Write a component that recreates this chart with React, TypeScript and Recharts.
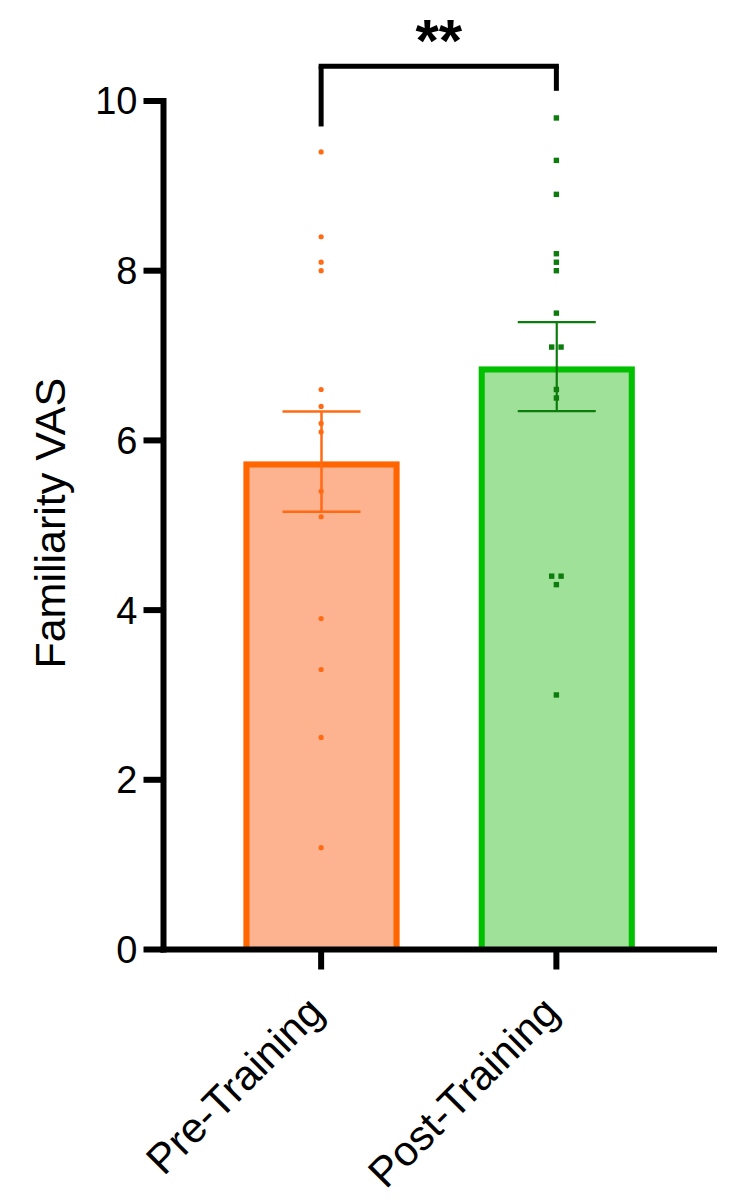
import {
  Bar,
  ComposedChart,
  ErrorBar,
  ReferenceLine,
  Scatter,
  XAxis,
  YAxis,
} from "recharts";

// group labels, bar heights (means) and SEM
const groups = ["Pre-Training", "Post-Training"];
const means = [5.75, 6.87];
const sems = [0.59, 0.525];

// individual scores per group
const preScores = [9.4, 8.4, 8.1, 8.0, 6.6, 6.4, 6.2, 6.1, 5.4, 5.1, 3.9, 3.3, 2.5, 1.2];
const postScores = [9.8, 9.3, 8.9, 8.2, 8.1, 8.0, 7.5, 7.1, 7.1, 6.6, 6.5, 4.4, 4.4, 4.3, 3.0];

const yTicks = [0, 2, 4, 6, 8, 10];

// significance bracket: leg bottoms, bracket height and its label
const bracketLeft = 9.7;
const bracketRight = 10.12;
const bracketTop = 10.41;
const significance = "**";

const FONT = "'Liberation Sans', Arial, Helvetica, sans-serif";

const PRE_STROKE = "#ff6600";
const PRE_FILL = "#fdb38f";
const PRE_DOT = "#ff6a13";
const POST_STROKE = "#00c000";
const POST_FILL = "#9fe198";
const POST_DOT = "#0c7d0c";

const barData = [
  { name: groups[0], pre: means[0], preErr: sems[0] },
  { name: groups[1], post: means[1], postErr: sems[1] },
];

const scoreData = [
  ...preScores.map((value) => ({ name: groups[0], value, group: 0 })),
  ...postScores.map((value) => ({ name: groups[1], value, group: 1 })),
];

const BAR_BORDER = 6;

// Prism-style bar: border drawn inside the rect, no bottom edge
function makeBarShape(fill: string, stroke: string) {
  return (props: any) => {
    const { x, y, width, height } = props;
    if (!height || height <= 0) return null;
    const h = BAR_BORDER / 2;
    const d = `M${x + h},${y + height} L${x + h},${y + h} L${x + width - h},${y + h} L${x + width - h},${y + height}`;
    return (
      <g>
        <rect x={x} y={y} width={width} height={height} fill={fill} />
        <path d={d} fill="none" stroke={stroke} strokeWidth={BAR_BORDER} />
      </g>
    );
  };
}

// tied scores are spread side by side
function ScoreDot(props: any) {
  const { cx, cy, payload, index } = props;
  if (cx == null || cy == null) return null;
  const isTie = (p: { group: number; value: number }) =>
    p.group === payload.group && p.value === payload.value;
  const ties = scoreData.filter(isTie).length;
  const k = scoreData.slice(0, index).filter(isTie).length;
  const dx = ties > 1 ? (k - (ties - 1) / 2) * 9.4 : 0;
  if (payload.group === 0) {
    return <circle cx={cx + dx} cy={cy} r={2.6} fill={PRE_DOT} />;
  }
  return <rect x={cx + dx - 2.7} y={cy - 2.7} width={5.4} height={5.4} fill={POST_DOT} />;
}

function CategoryTick(props: any) {
  const { x, y, payload } = props;
  const ex = x + 5;
  const ey = y + 45;
  return (
    <text
      x={ex}
      y={ey}
      transform={`rotate(-45 ${ex} ${ey})`}
      textAnchor="end"
      fontFamily={FONT}
      fontSize={42}
      fill="#000"
    >
      {payload.value}
    </text>
  );
}

function YTitle(props: any) {
  const { viewBox } = props;
  const cx = viewBox.x + 31.5;
  const cy = viewBox.y + viewBox.height / 2 - 2;
  return (
    <text
      x={cx}
      y={cy}
      transform={`rotate(-90 ${cx} ${cy})`}
      textAnchor="middle"
      fontFamily={FONT}
      fontSize={43}
      fill="#000"
    >
      Familiarity VAS
    </text>
  );
}

function StarsLabel(props: any) {
  const { viewBox } = props;
  const cx = viewBox.x + (viewBox.width ?? 0) / 2;
  return (
    <text
      x={cx}
      y={viewBox.y - 5}
      textAnchor="middle"
      fontFamily={FONT}
      fontWeight="bold"
      fontSize={60}
      fill="#000"
    >
      {significance}
    </text>
  );
}

export default function App() {
  return (
    <div style={{ position: "absolute", left: 0, top: 0, width: 750, height: 1202, background: "#fff" }}>
      <ComposedChart
        width={750}
        height={1202}
        data={barData}
        margin={{ top: 101, right: 36, bottom: 52.5, left: 33.5 }}
      >
        <Bar
          dataKey="pre"
          stackId="a"
          barSize={156}
          shape={makeBarShape(PRE_FILL, PRE_STROKE)}
          isAnimationActive={false}
        >
          <ErrorBar dataKey="preErr" width={39} stroke={PRE_DOT} strokeWidth={2.5} isAnimationActive={false} />
        </Bar>
        <Bar
          dataKey="post"
          stackId="a"
          barSize={156}
          shape={makeBarShape(POST_FILL, POST_STROKE)}
          isAnimationActive={false}
        >
          <ErrorBar dataKey="postErr" width={39} stroke={POST_DOT} strokeWidth={2.2} isAnimationActive={false} />
        </Bar>
        <Scatter data={scoreData} dataKey="value" shape={ScoreDot} isAnimationActive={false} />
        <ReferenceLine
          segment={[
            { x: groups[0], y: bracketLeft },
            { x: groups[0], y: bracketTop },
          ]}
          stroke="#000"
          strokeWidth={5}
          ifOverflow="visible"
        />
        <ReferenceLine
          segment={[
            { x: groups[1], y: bracketRight },
            { x: groups[1], y: bracketTop },
          ]}
          stroke="#000"
          strokeWidth={5}
          ifOverflow="visible"
        />
        <ReferenceLine
          segment={[
            { x: groups[0], y: bracketTop },
            { x: groups[1], y: bracketTop },
          ]}
          stroke="#000"
          strokeWidth={5}
          strokeLinecap="square"
          ifOverflow="visible"
          label={<StarsLabel />}
        />
        <XAxis
          dataKey="name"
          type="category"
          allowDuplicatedCategory={false}
          padding={{ left: 40, right: 40 }}
          height={200}
          tickSize={20}
          tickMargin={0}
          axisLine={{ stroke: "#000", strokeWidth: 6, strokeLinecap: "square" }}
          tickLine={{ stroke: "#000", strokeWidth: 6 }}
          tick={<CategoryTick />}
          interval={0}
        />
        <YAxis
          type="number"
          domain={[0, 10]}
          ticks={yTicks}
          width={130}
          tickSize={20}
          tickMargin={6}
          axisLine={{ stroke: "#000", strokeWidth: 6, strokeLinecap: "square" }}
          tickLine={{ stroke: "#000", strokeWidth: 6 }}
          tick={{ fill: "#000", fontSize: 38, fontFamily: FONT }}
          label={{ content: <YTitle /> }}
        />
      </ComposedChart>
    </div>
  );
}
